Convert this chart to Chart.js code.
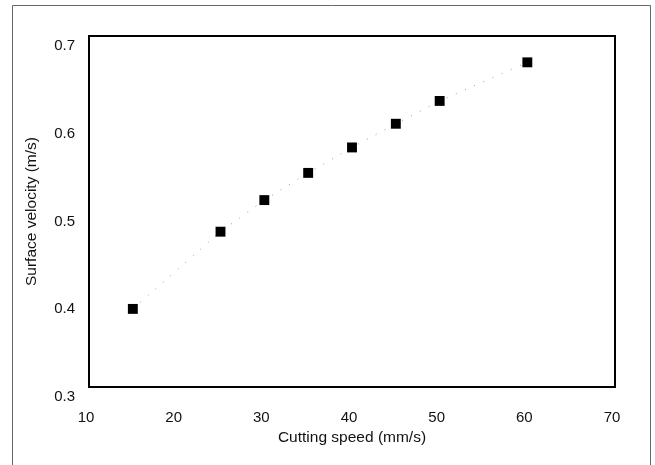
<!DOCTYPE html>
<html>
<head>
<meta charset="utf-8">
<script src="https://cdn.jsdelivr.net/npm/chart.js@4/dist/chart.umd.min.js"></script>
<style>
  html, body { margin: 0; padding: 0; background: #fff; }
  #wrap { width: 655px; height: 465px; }
</style>
</head>
<body>
<div id="wrap"><canvas id="chart" width="655" height="465"></canvas></div>
<script>
  // Surface velocity vs cutting speed (scanned figure)
  const cuttingSpeed    = [15, 25, 30, 35, 40, 45, 50, 60];              // mm/s
  const surfaceVelocity = [0.389, 0.477, 0.513, 0.544, 0.573, 0.600, 0.626, 0.670]; // m/s

  const xTicks = [10, 20, 30, 40, 50, 60, 70];
  const yTicks = [0.3, 0.4, 0.5, 0.6, 0.7];

  const FONT = '"Liberation Sans", Arial, sans-serif';

  // outer page frame + thick plot box
  const framePlugin = {
    id: 'frame',
    beforeDraw(chart) {
      const c = chart.ctx;
      c.save();
      c.fillStyle = '#fff';
      c.fillRect(0, 0, chart.width, chart.height);
      c.strokeStyle = '#666';
      c.lineWidth = 1;
      c.beginPath();
      c.moveTo(12.5, 465);
      c.lineTo(12.5, 5.5);
      c.lineTo(650.5, 5.5);
      c.lineTo(650.5, 465);
      c.stroke();
      c.restore();
    },
    afterDraw(chart) {
      const a = chart.chartArea;
      const c = chart.ctx;
      c.save();
      c.strokeStyle = '#000';
      c.lineWidth = 2;
      c.strokeRect(a.left, a.top, a.right - a.left, a.bottom - a.top);
      c.restore();
    }
  };

  new Chart(document.getElementById('chart'), {
    type: 'scatter',
    data: {
      datasets: [{
        label: 'Surface velocity',
        data: cuttingSpeed.map((x, i) => ({ x: x, y: surfaceVelocity[i] })),
        showLine: true,
        borderColor: '#999',
        borderWidth: 1,
        borderDash: [1, 9],
        pointStyle: 'rect',
        pointRadius: 7,
        pointBackgroundColor: '#000',
        pointBorderWidth: 0,
        fill: false
      }]
    },
    options: {
      responsive: false,
      animation: false,
      layout: { padding: { left: 12, top: 36, right: 40, bottom: 0 } },
      plugins: { legend: { display: false }, tooltip: { enabled: false } },
      scales: {
        x: {
          type: 'linear',
          min: 10, max: 70,
          afterFit: s => { s.height = 78; },
          afterBuildTicks: s => { s.ticks = xTicks.map(v => ({ value: v })); },
          grid: { display: false, drawTicks: false },
          border: { display: false },
          ticks: {
            padding: 22,
            labelOffset: -3,
            color: '#111',
            font: { family: FONT, size: 15 },
            callback: v => String(v)
          },
          title: {
            display: true,
            text: 'Cutting speed (mm/s)',
            color: '#111',
            font: { family: FONT, size: 15.5 },
            padding: { top: 0, bottom: 18 }
          }
        },
        y: {
          type: 'linear',
          min: 0.3, max: 0.7,
          afterFit: s => { s.width = 77; },
          afterBuildTicks: s => { s.ticks = yTicks.map(v => ({ value: v })); },
          grid: { display: false, drawTicks: false },
          border: { display: false },
          ticks: {
            padding: 14,
            labelOffset: 10,
            color: '#111',
            font: { family: FONT, size: 15 },
            callback: v => Number(v).toFixed(1)
          },
          title: {
            display: true,
            text: 'Surface velocity (m/s)',
            color: '#111',
            font: { family: FONT, size: 15.5 },
            padding: { top: 10, bottom: 0 }
          }
        }
      }
    },
    plugins: [framePlugin]
  });
</script>
</body>
</html>
